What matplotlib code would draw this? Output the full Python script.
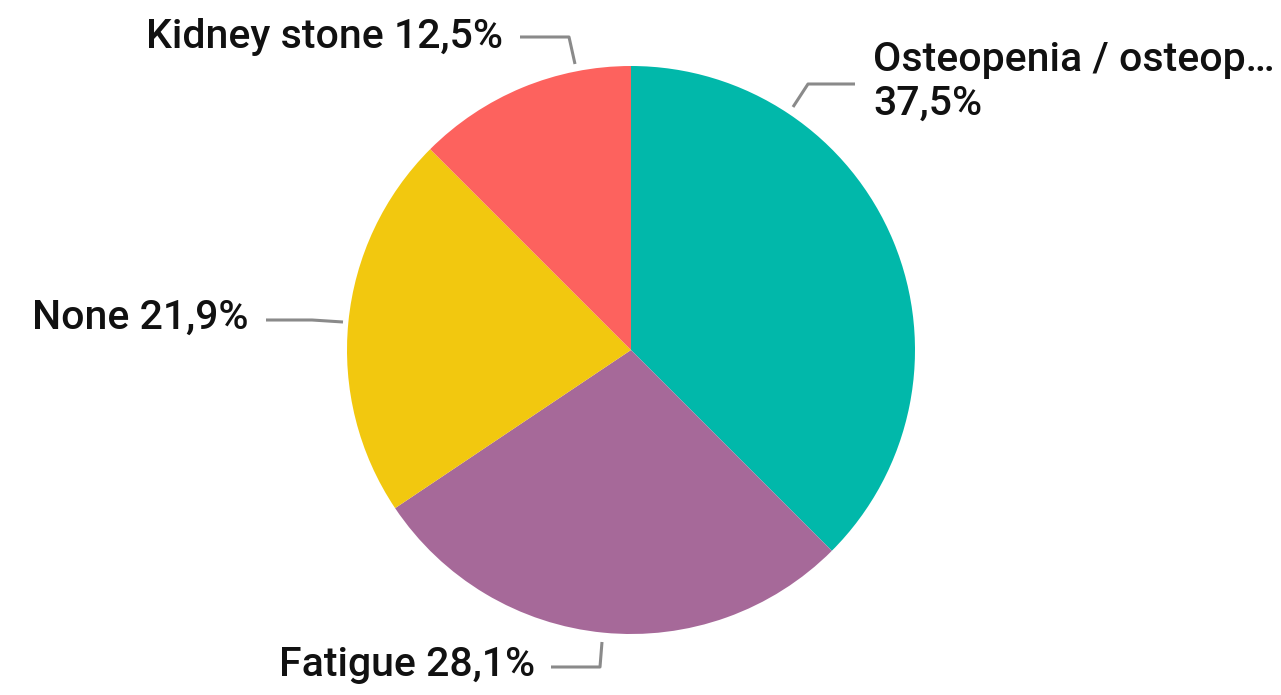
import numpy as np
import matplotlib
matplotlib.use("Agg")
import matplotlib.pyplot as plt

labels = ["Osteopenia / osteop…", "Fatigue", "None", "Kidney stone"]
values = [37.5, 28.1, 21.9, 12.5]
colors = ["#01B8AA", "#A66999", "#F2C80F", "#FD625E"]

W, H = 1281, 695
plt.rcParams["font.family"] = ["Roboto", "DejaVu Sans"]

fig = plt.figure(figsize=(W / 100, H / 100), dpi=100)
ax = fig.add_axes([0, 0, 1, 1])

cx, cy, r = 631, H - 350, 284
ax.pie(values, colors=colors, startangle=90, counterclock=False,
       center=(cx, cy), radius=r, frame=True,
       wedgeprops=dict(linewidth=0))
ax.set_xlim(0, W)
ax.set_ylim(0, H)
ax.set_aspect("equal")
ax.axis("off")

def lbl(i):
    return f"{labels[i]} {values[i]:.1f}%".replace(".", ",")

line_kw = dict(color="#8a8a8a", lw=2.2, solid_capstyle="butt")
txt_kw = dict(fontsize=29.5, fontweight="medium", color="#111111", va="center")

# leader lines (pixel coords, y from top)
def leader(pts):
    xs = [p[0] for p in pts]
    ys = [H - p[1] for p in pts]
    ax.plot(xs, ys, **line_kw)

leader([(793, 107), (808, 84), (855, 84)])
ax.text(873, H - 60, labels[0], ha="left", **txt_kw)
ax.text(873, H - 104, f"{values[0]:.1f}%".replace(".", ","), ha="left", **txt_kw)

leader([(602, 642), (600, 667), (551, 667)])
ax.text(535, H - 665, lbl(1), ha="right", **txt_kw)

leader([(343, 322), (312, 320), (266, 320)])
ax.text(248, H - 318, lbl(2), ha="right", **txt_kw)

leader([(575, 64), (569, 37), (520, 37)])
ax.text(503, H - 37, lbl(3), ha="right", **txt_kw)

fig.savefig("out.png", dpi=100, facecolor="white")
